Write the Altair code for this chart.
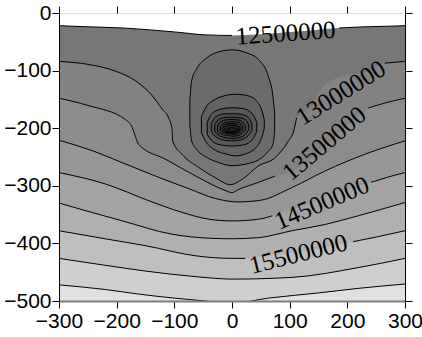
import altair as alt
import pandas as pd

X_DOMAIN = [-300, 300]
Y_DOMAIN = [-500, 0]
X_TICKS = [-300, -200, -100, 0, 100, 200, 300]
Y_TICKS = [0, -100, -200, -300, -400, -500]

# colour of the field above the first contour (and inside the 12.5M oval)
TOP_FILL = "#6b6b6b"

# open contour lines crossing the section (level -> points)
LEVELS = [12500000, 13000000, 13500000, 14000000, 14500000,
          15000000, 15500000, 16000000, 16500000]
LINE_X = {
    12500000: [-300, -250, -190, -140, -98, -46, 0, 50, 100, 150, 186, 230, 270, 300],
    13000000: [-300, -248, -202, -167, -138, -121, -110, -104, -103, -87, -58, -29, -3, 20, 45, 75, 98, 107, 112, 136, 156, 190, 236, 265, 300],
    13500000: [-300, -248, -185, -173, -167, -162, -115, -63, -12, 0, 10, 46, 75, 92, 120, 150, 180, 205, 236, 270, 300],
    14000000: [-300, -248, -190, -133, -75, -29, 10, 50, 104, 162, 231, 300],
    14500000: [-300, -219, -144, -87, -40, 0, 46, 70, 110, 140, 170, 200, 241, 270, 300],
    15000000: [-300, -190, -104, -40, 0, 46, 104, 162, 219, 300],
    15500000: [-300, -220, -150, -60, 0, 23, 40, 80, 120, 160, 210, 250, 300],
    16000000: [-300, -220, -150, -60, 0, 104, 219, 300],
    16500000: [-300, -220, -162, -100, -46, 0, 63, 150, 220, 300],
}
LINE_Y = {
    12500000: [-22, -24, -26, -29.5, -33, -38, -39, -37, -33, -29, -26, -24, -23, -22],
    13000000: [-84, -89.5, -101, -118, -144, -167, -182, -202, -222, -245, -268, -286, -298, -287, -266, -251, -222, -205, -182, -162, -130, -110, -101, -87, -84],
    13500000: [-148, -161, -185, -199, -216, -228, -254, -283, -308, -312, -307, -294, -283, -280, -265, -240, -212, -190, -165, -155, -148],
    14000000: [-221, -237, -260, -283, -305, -322, -328, -325, -303, -274, -245, -222],
    14500000: [-277, -297, -326, -346, -358, -361, -358, -352, -340, -328, -316, -305, -294, -285, -277],
    15000000: [-330, -361, -384, -391, -392, -390, -378, -367, -352, -329],
    15500000: [-378, -392, -404, -422, -426, -426, -425, -420, -414, -407, -397, -389, -378],
    16000000: [-426, -438, -448, -458, -462, -459, -442, -426],
    16500000: [-472, -480, -488, -495, -500, -504, -495, -486, -478, -470.5],
}
# fill of the band just below (higher value than) each line
BAND_FILL = {
    12500000: "#777777", 13000000: "#828282", 13500000: "#8c8c8c",
    14000000: "#979797", 14500000: "#a3a3a3", 15000000: "#b0b0b0",
    15500000: "#bfbfbf", 16000000: "#cfcfcf", 16500000: "#e0e0e0",
}
# x range where a line is interrupted by its label
LABEL_GAP = {
    12500000: (0, 186), 13000000: (112, 265), 13500000: (75, 236),
    14500000: (70, 241), 15500000: (23, 210),
}

# closed contours around the low (outer to inner): x, upper y, lower y
RING_LEVELS = [12500000, 12000000, 11500000, 11000000, 10500000,
               10000000, 9500000, 9000000, 8500000, 8000000]
RING_X = [
    [-73, -70, -62, -45, -25, 0, 25, 46, 63, 71, 74],
    [-53, -46, -29, -10, 6, 25, 43, 52, 56],
    [-43, -36, -20, 0, 20, 36, 43],
    [-36, -28, -12, 2, 16, 28, 34.5],
    [-30, -22, -8, 2, 14, 23, 29],
    [-25, -18, -5, 3, 12, 18, 23],
    [-20, -14, -3, 4, 12, 18],
    [-16, -10, 0, 8, 14],
    [-12, -5, 3, 11.5],
    [-7, 0, 8.6],
]
RING_TOP = [
    [-150, -118, -98, -79, -68, -64, -69, -81, -110, -145, -175],
    [-180, -165, -150, -143, -141, -143, -153, -170, -185],
    [-190, -176, -167, -164.5, -166, -176, -190],
    [-192, -180, -175, -175, -176, -181, -192],
    [-194, -184, -181, -181, -182, -185, -194],
    [-196, -188, -185, -185, -186, -189, -196],
    [-197, -191, -189, -189, -190, -197],
    [-198, -193, -192, -193, -198],
    [-199, -195, -195, -199],
    [-201, -199, -201],
]
RING_BOT = [
    [-195, -222, -236, -250, -259, -265, -262, -255, -240, -228, -205],
    [-208, -222, -238, -245, -248, -244, -232, -215, -200],
    [-210, -221, -229, -231, -229, -219, -205],
    [-206, -215, -221, -222, -220, -213, -204],
    [-205, -213, -217, -218, -216, -211, -203],
    [-205, -210, -213, -214, -212, -208, -203],
    [-204, -208, -210, -211, -208, -203],
    [-204, -207, -209, -207, -203],
    [-204, -207, -208, -204],
    [-204, -206, -204],
]
RING_FILL = ["#6b6b6b", "#626262", "#585858", "#4f4f4f", "#464646",
             "#3e3e3e", "#363636", "#2e2e2e", "#272727", "#202020"]

# contour labels
LABEL_TEXT = ["12500000", "13000000", "13500000", "14500000", "15500000"]
LABEL_X = [93, 189, 160, 156, 115]
LABEL_Y = [-35, -138.5, -226.7, -330, -418.5]
LABEL_ANGLE = [356, 328, 320, 337, 346]

xs = alt.Scale(domain=X_DOMAIN, nice=False, zero=False)
ys = alt.Scale(domain=Y_DOMAIN, nice=False, zero=False)

ax_bottom = alt.Axis(orient="bottom", values=X_TICKS, title=None, grid=False,
                     labelFont="Liberation Sans", labelFontSize=21, labelColor="black",
                     labelPadding=2, labelFlush=False, labelOverlap=False,
                     tickColor="black", tickSize=7, tickWidth=1,
                     domainColor="#808080", domainWidth=2, zindex=1)
ax_left = alt.Axis(orient="left", values=Y_TICKS, title=None, grid=False,
                   labelFont="Liberation Sans", labelFontSize=21, labelColor="black",
                   labelPadding=1, labelFlush=False, labelOverlap=False,
                   tickColor="black", tickSize=7, tickWidth=1,
                   domainColor="black", domainWidth=1, zindex=1)
ax_top = alt.Axis(orient="top", values=X_TICKS, title=None, grid=False, labels=False,
                  tickColor="black", tickSize=7, tickWidth=1, domain=False, zindex=1)
ax_right = alt.Axis(orient="right", values=Y_TICKS, title=None, grid=False, labels=False,
                    tickColor="black", tickSize=7, tickWidth=1,
                    domainColor="black", domainWidth=1, zindex=1)

layers = []
for i, lev in enumerate(LEVELS):
    df = pd.DataFrame({"x": LINE_X[lev], "y": LINE_Y[lev]})
    df["ybase"] = Y_DOMAIN[0]
    if i == 0:
        xa, ya = ax_bottom, ax_left
    elif i == 1:
        xa, ya = ax_top, ax_right
    else:
        xa, ya = None, None
    layers.append(
        alt.Chart(df).mark_area(fill=BAND_FILL[lev], interpolate="monotone", clip=True)
        .encode(x=alt.X("x:Q", scale=xs, axis=xa),
                y=alt.Y("y:Q", scale=ys, axis=ya),
                y2="ybase:Q")
    )

for k in range(len(RING_LEVELS)):
    df = pd.DataFrame({"x": RING_X[k], "top": RING_TOP[k], "bot": RING_BOT[k]})
    layers.append(
        alt.Chart(df).mark_area(fill=RING_FILL[k], stroke="black", strokeWidth=1,
                                interpolate="monotone", clip=True)
        .encode(x=alt.X("x:Q", scale=xs, axis=None),
                y=alt.Y("top:Q", scale=ys, axis=None),
                y2="bot:Q")
    )

rows = []
for lev in LEVELS:
    gap = LABEL_GAP.get(lev)
    for x, y in zip(LINE_X[lev], LINE_Y[lev]):
        if gap and gap[0] < x < gap[1]:
            continue
        seg = 1 if (gap and x >= gap[1]) else 0
        rows.append({"x": x, "y": y, "seg": f"{lev}_{seg}"})
lines_df = pd.DataFrame(rows)
layers.append(
    alt.Chart(lines_df).mark_line(color="black", strokeWidth=1, interpolate="monotone", clip=True)
    .encode(x=alt.X("x:Q", scale=xs, axis=None),
            y=alt.Y("y:Q", scale=ys, axis=None),
            detail="seg:N")
)

lab_df = pd.DataFrame({"x": LABEL_X, "y": LABEL_Y, "text": LABEL_TEXT, "angle": LABEL_ANGLE})
layers.append(
    alt.Chart(lab_df).mark_text(font="Times New Roman", fontSize=25, color="black",
                                align="center", baseline="middle")
    .encode(x=alt.X("x:Q", scale=xs, axis=None),
            y=alt.Y("y:Q", scale=ys, axis=None),
            text="text:N",
            angle=alt.Angle("angle:Q", scale=None))
)

chart = (
    alt.layer(*layers)
    .resolve_axis(x="independent", y="independent")
    .properties(width=346, height=288, autosize="none",
                padding={"left": 59, "top": 13, "right": 17, "bottom": 36})
    .configure_view(fill=TOP_FILL, stroke=None)
    .configure(background="white")
)

chart.save("out.html", embed_options={"renderer": "svg", "actions": False})
